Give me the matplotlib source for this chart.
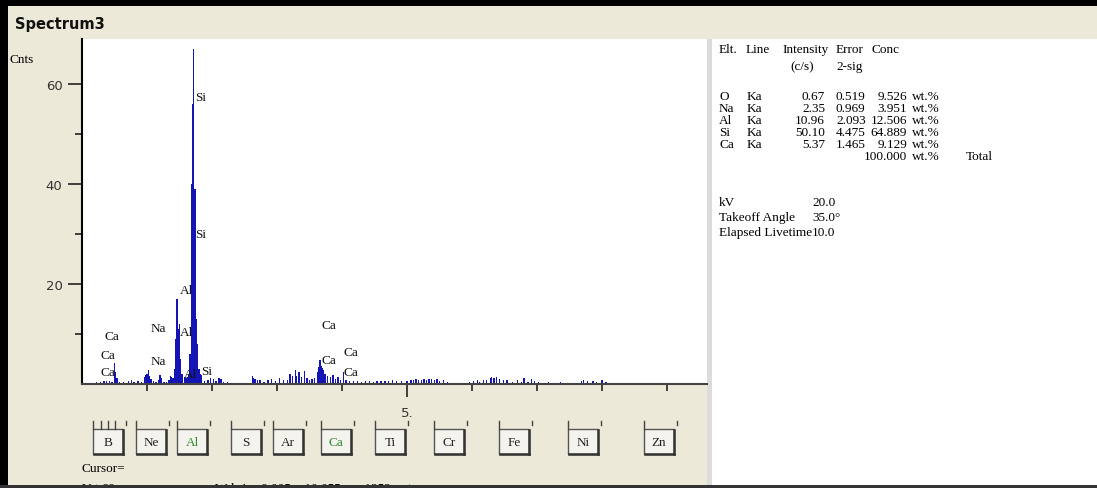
import matplotlib
matplotlib.use("Agg")
import matplotlib.pyplot as plt
from matplotlib.patches import Rectangle

# ---------------- data ----------------
spec_kev = [0.22, 0.28, 0.34, 0.38, 0.42, 0.46, 0.50, 0.52, 0.54, 0.58, 0.64, 0.72, 0.76, 0.80,
            0.86, 0.92, 0.96, 0.98, 1.00, 1.02, 1.04, 1.06, 1.10, 1.14, 1.18, 1.20, 1.22, 1.26,
            1.30, 1.34, 1.36, 1.38, 1.40, 1.42, 1.44, 1.46, 1.48, 1.50, 1.52, 1.54, 1.58, 1.60,
            1.62, 1.64, 1.66, 1.68, 1.70, 1.72, 1.74, 1.76, 1.78, 1.80, 1.82, 1.84, 1.88, 1.94,
            1.98, 2.02, 2.06, 2.10, 2.12, 2.14, 2.18, 2.24, 2.30, 2.62, 2.64, 2.66, 2.70, 2.74,
            2.80, 2.86, 2.92, 2.98, 3.04, 3.10, 3.16, 3.20, 3.24, 3.28, 3.30, 3.34, 3.38, 3.42,
            3.46, 3.50, 3.54, 3.58, 3.62, 3.64, 3.66, 3.68, 3.70, 3.72, 3.74, 3.78, 3.82, 3.86,
            3.90, 3.94, 3.98, 4.02, 4.06, 4.12, 4.18, 4.24, 4.30, 4.36, 4.42, 4.48, 4.54, 4.60,
            4.66, 4.72, 4.78, 4.84, 4.92, 5.00, 5.06, 5.10, 5.14, 5.18, 5.22, 5.26, 5.30, 5.34,
            5.38, 5.42, 5.46, 5.50, 5.56, 5.62, 5.90, 5.96, 6.02, 6.08, 6.12, 6.18, 6.22, 6.28,
            6.30, 6.34, 6.38, 6.42, 6.48, 6.54, 6.62, 6.70, 6.76, 6.80, 6.86, 6.92, 6.96, 7.02,
            7.10, 7.18, 7.26, 7.36, 7.46, 7.68, 7.72, 7.78, 7.86, 7.92, 8.00, 8.06, 8.46, 8.60,
            8.70, 8.84, 8.98, 9.12, 9.26, 9.40, 9.52]
spec_cnts = [0.4, 0.5, 0.6, 0.7, 0.6, 0.5, 4.2, 2.4, 1.2, 0.5, 0.4, 0.6, 0.8, 0.5,
             0.6, 0.5, 1.4, 1.8, 2.0, 2.8, 1.6, 1.0, 0.6, 0.4, 0.8, 1.8, 1.2, 0.5,
             0.4, 0.9, 1.6, 1.4, 1.2, 3.0, 9.0, 17.0, 11.0, 12.0, 5.0, 2.0, 1.5, 1.2,
             1.4, 2.0, 6.0, 40.0, 56.0, 67.0, 39.0, 13.0, 8.0, 3.0, 2.0, 1.8, 0.6, 0.8,
             1.2, 1.0, 0.6, 1.2, 1.2, 1.0, 0.4, 0.5, 0.3, 1.6, 1.2, 1.0, 0.8, 0.8,
             0.5, 0.8, 1.0, 0.6, 1.2, 0.8, 0.8, 2.0, 1.6, 2.8, 1.6, 2.4, 1.4, 2.6,
             1.2, 0.8, 1.0, 1.2, 2.4, 3.4, 4.8, 3.6, 3.2, 2.8, 2.0, 1.6, 1.4, 1.8,
             1.0, 1.4, 0.8, 2.4, 0.8, 0.6, 0.7, 0.6, 0.5, 0.6, 0.6, 0.5, 0.6, 0.6,
             0.7, 0.6, 0.8, 0.6, 0.7, 0.6, 0.9, 0.8, 1.0, 0.8, 0.9, 1.0, 0.8, 1.0,
             1.1, 0.9, 1.0, 0.7, 0.8, 0.5, 0.3, 0.4, 0.6, 0.8, 0.5, 0.9, 0.8, 1.2,
             1.4, 1.3, 1.4, 1.0, 0.8, 0.9, 0.4, 0.8, 0.5, 1.3, 0.5, 1.1, 0.6, 0.4,
             0.3, 0.4, 0.3, 0.4, 0.3, 0.7, 0.8, 0.6, 0.7, 0.5, 0.8, 0.4, 0.3, 0.3,
             0.3, 0.3, 0.3, 0.3, 0.3, 0.3, 0.3]

peak_labels = ["Si", "Si", "Al", "Al", "Al", "Si", "Na", "Na", "Ca", "Ca", "Ca",
               "Ca", "Ca", "Ca", "Ca"]
peak_label_kev = [1.74, 1.74, 1.51, 1.51, 1.57, 1.83, 1.05, 1.05, 0.34, 0.29, 0.29,
                  3.69, 3.69, 4.02, 4.02]
peak_label_cnts = [57.4, 30.0, 18.8, 10.4, 2.0, 2.6, 11.2, 4.6, 9.6, 5.8, 2.4,
                   11.8, 4.8, 6.4, 2.4]

y_ticks = [20, 40, 60]
y_minor = [10, 30, 50]
x_ticks = [1, 2, 3, 4, 5, 6, 7, 8, 9]

table_elt = ["O", "Na", "Al", "Si", "Ca"]
table_line = ["Ka", "Ka", "Ka", "Ka", "Ka"]
table_intensity = ["0.67", "2.35", "10.96", "50.10", "5.37"]
table_error = ["0.519", "0.969", "2.093", "4.475", "1.465"]
table_conc = ["9.526", "3.951", "12.506", "64.889", "9.129"]
table_total = "100.000"
params_names = ["kV", "Takeoff Angle", "Elapsed Livetime"]
params_values = ["20.0", "35.0\u00b0", "10.0"]

buttons = ["B", "Ne", "Al", "S", "Ar", "Ca", "Ti", "Cr", "Fe", "Ni", "Zn"]
buttons_on = ["Al", "Ca"]

# ---------------- figure ----------------
W, H = 1097, 489
fig = plt.figure(figsize=(W / 100, H / 100), dpi=100)
BEIGE = "#ECE9D8"
fig.patch.set_facecolor(BEIGE)

bg = fig.add_axes([0, 0, 1, 1], zorder=0)
bg.set_xlim(0, W)
bg.set_ylim(H, 0)
bg.axis("off")

SERIF = ["Liberation Serif", "DejaVu Serif"]
fs = 9.5

# white right panel and separator
bg.add_patch(Rectangle((707, 40), 5, 446, facecolor="#dcdcdc", edgecolor="none"))
bg.add_patch(Rectangle((712, 40), W - 712, 446, facecolor="white", edgecolor="none"))

# title
bg.text(15, 24, "Spectrum3", fontsize=10.5, fontweight="bold", family="DejaVu Sans",
        va="center", ha="left", color="#111111")
bg.text(10, 60, "Cnts", fontsize=fs, family=SERIF, va="center", ha="left")

# table
hdr_y1, hdr_y2 = 50, 67
bg.text(719, hdr_y1, "Elt.", fontsize=fs, family=SERIF, va="center")
bg.text(746, hdr_y1, "Line", fontsize=fs, family=SERIF, va="center")
bg.text(782, hdr_y1, "Intensity", fontsize=fs, family=SERIF, va="center")
bg.text(790, hdr_y2, "(c/s)", fontsize=fs, family=SERIF, va="center")
bg.text(836, hdr_y1, "Error", fontsize=fs, family=SERIF, va="center")
bg.text(836, hdr_y2, "2-sig", fontsize=fs, family=SERIF, va="center")
bg.text(872, hdr_y1, "Conc", fontsize=fs, family=SERIF, va="center")
row0, dy = 97, 12
for i in range(len(table_elt)):
    y = row0 + i * dy
    bg.text(719, y, table_elt[i], fontsize=fs, family=SERIF, va="center")
    bg.text(747, y, table_line[i], fontsize=fs, family=SERIF, va="center")
    bg.text(825, y, table_intensity[i], fontsize=fs, family=SERIF, va="center", ha="right")
    bg.text(836, y, table_error[i], fontsize=fs, family=SERIF, va="center")
    bg.text(907, y, table_conc[i], fontsize=fs, family=SERIF, va="center", ha="right")
    bg.text(912, y, "wt.%", fontsize=fs, family=SERIF, va="center")
yt = row0 + len(table_elt) * dy
bg.text(907, yt, table_total, fontsize=fs, family=SERIF, va="center", ha="right")
bg.text(912, yt, "wt.%", fontsize=fs, family=SERIF, va="center")
bg.text(966, yt, "Total", fontsize=fs, family=SERIF, va="center")
for i, (n, v) in enumerate(zip(params_names, params_values)):
    y = 203 + i * 15
    bg.text(719, y, n, fontsize=fs, family=SERIF, va="center")
    bg.text(812, y, v, fontsize=fs, family=SERIF, va="center")

# element buttons
btn_left = [93, 136, 177, 231, 273, 321, 375, 434, 499, 568, 644]
for name, x0 in zip(buttons, btn_left):
    bw, bh, by = 30, 25, 430
    bg.add_patch(Rectangle((x0, by), bw, bh, facecolor="#F4F3EE", edgecolor="#555555", lw=1.0))
    bg.plot([x0 + 1, x0 + bw], [by + bh, by + bh], color="#333333", lw=1.8)
    bg.plot([x0 + bw, x0 + bw], [by + 1, by + bh], color="#333333", lw=1.8)
    bg.plot([x0, x0], [by - 8, by], color="#444444", lw=1)
    bg.plot([x0 + bw + 3, x0 + bw + 3], [by - 8, by - 4], color="#444444", lw=1)
    col = "#2E8B2E" if name in buttons_on else "#222222"
    bg.text(x0 + bw / 2, by + bh / 2 + 1, name, fontsize=fs, family=SERIF, color=col,
            ha="center", va="center")
# extra small ticks above first button
for dx in [8, 15, 22]:
    bg.plot([93 + dx, 93 + dx], [422, 430], color="#444444", lw=1)

bg.text(82, 469, "Cursor=", fontsize=fs, family=SERIF, va="center")
clip = Rectangle((0, 0), W, 486, transform=bg.transData)
t1 = bg.text(82, 483, "V t 69", fontsize=fs, family=SERIF, va="top")
t2 = bg.text(215, 483, "Wd  1    0.005    10.055       1252     t", fontsize=fs, family=SERIF,
             va="top")
for t in (t1, t2):
    t.set_clip_path(clip)

# ---------------- spectrum axes ----------------
L, R, T, B = 82, 707, 40, 385
ax = fig.add_axes([L / W, 1 - B / H, (R - L) / W, (B - T) / H], zorder=1)
ax.set_facecolor("white")
xmax = (R - L) / 65.0
ymax = (B - T) / 5.0
ax.set_xlim(0, xmax)
ax.set_ylim(0, ymax)
ax.bar(spec_kev, spec_cnts, width=0.02, color="#1515B5", linewidth=0, align="center")

for lab, xk, yc in zip(peak_labels, peak_label_kev, peak_label_cnts):
    ax.text(xk, yc, lab, fontsize=fs, family=SERIF, ha="left", va="center", color="#111111")

for s in ["top", "right"]:
    ax.spines[s].set_visible(False)
ax.spines["left"].set_color("black")
ax.spines["left"].set_linewidth(1.5)
ax.spines["bottom"].set_color("#444444")
ax.spines["bottom"].set_linewidth(1.5)

ax.set_yticks(y_ticks)
ax.set_yticklabels([str(v) for v in y_ticks], fontsize=9.5, family="DejaVu Sans", color="#333333")
ax.set_yticks(y_minor, minor=True)
ax.tick_params(axis="y", which="major", direction="out", length=10, width=1.2, color="#222222",
               pad=4)
ax.tick_params(axis="y", which="minor", direction="out", length=5, width=1.2, color="#222222")

ax.set_xticks(x_ticks)
ax.set_xticklabels(["5." if v == 5 else "" for v in x_ticks], fontsize=9.5, family="DejaVu Sans",
                   color="#333333")
ax.tick_params(axis="x", which="major", direction="out", length=5, width=1.3, color="#333333",
               pad=11)
for t in ax.xaxis.get_major_ticks():
    if abs(t.get_loc() - 5) < 1e-6:
        t.tick1line.set_markersize(9)

# ---------------- borders on top ----------------
top = fig.add_axes([0, 0, 1, 1], zorder=10)
top.set_xlim(0, W)
top.set_ylim(H, 0)
top.axis("off")
top.patch.set_alpha(0)
top.add_patch(Rectangle((0, 0), W, 7, facecolor="black", edgecolor="none"))
top.add_patch(Rectangle((0, 0), 8, H, facecolor="black", edgecolor="none"))
top.add_patch(Rectangle((0, 486), W, 3, facecolor="#333333", edgecolor="none"))

fig.savefig("out.png", dpi=100, facecolor=fig.get_facecolor())
